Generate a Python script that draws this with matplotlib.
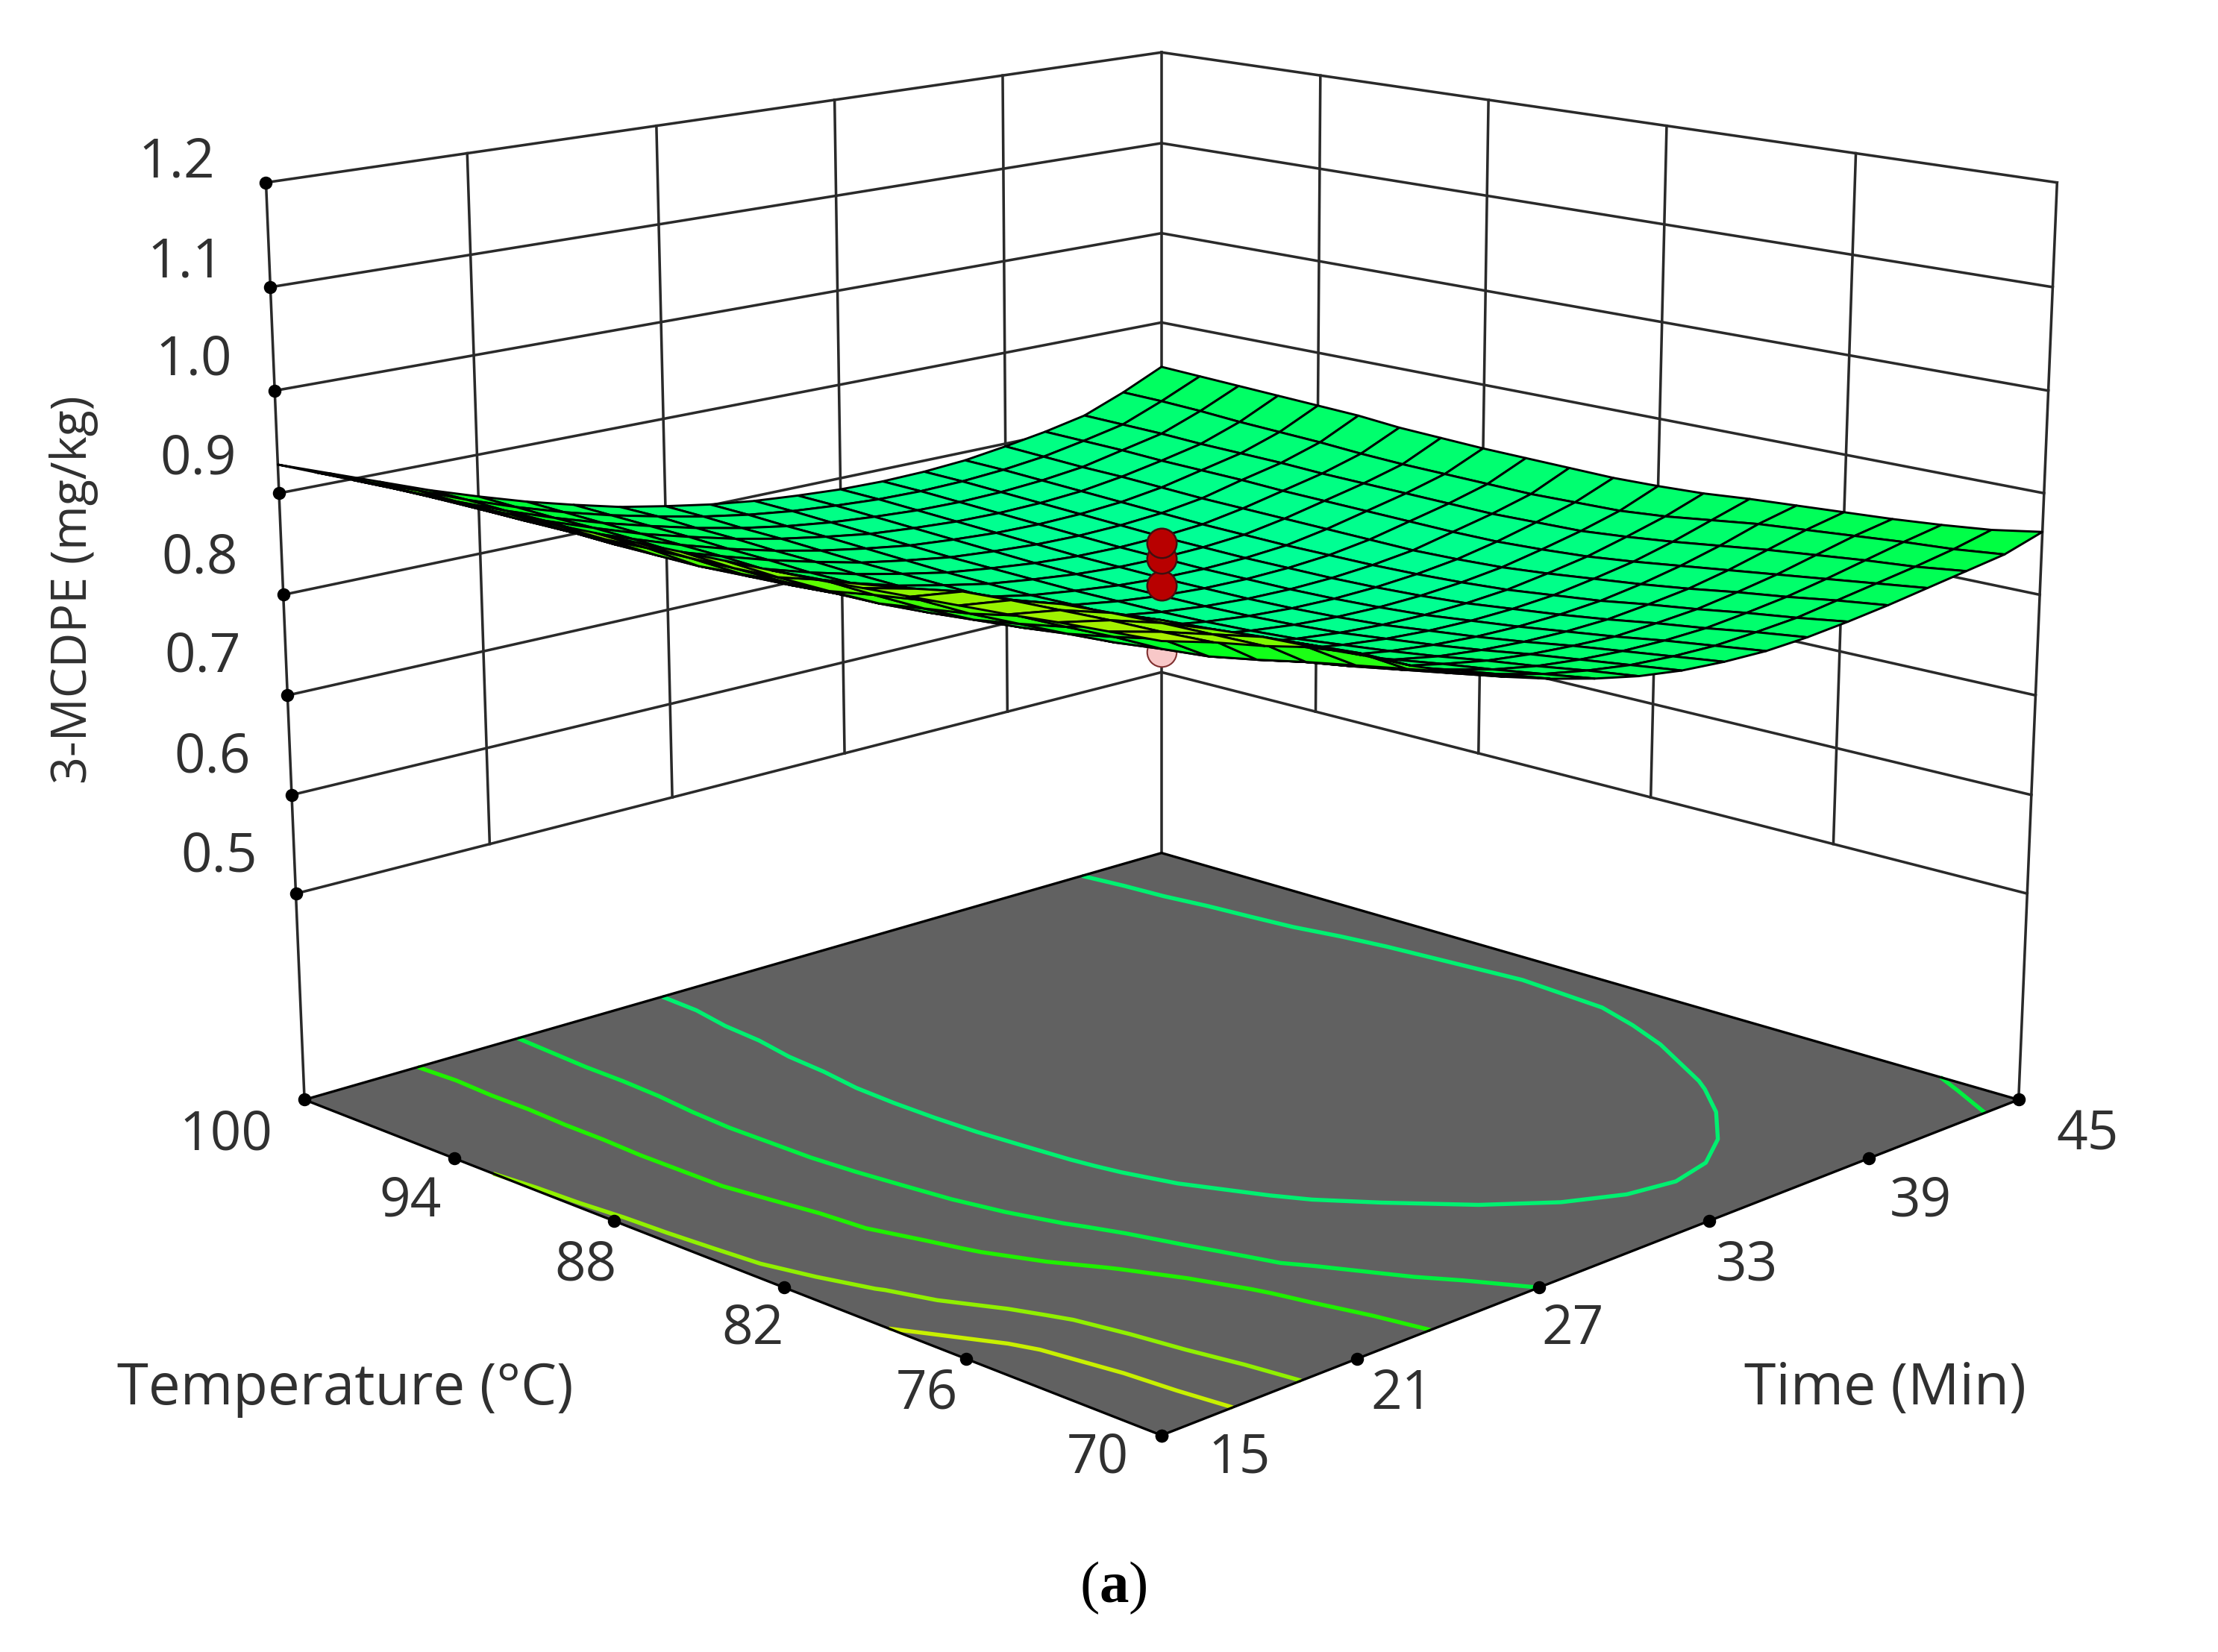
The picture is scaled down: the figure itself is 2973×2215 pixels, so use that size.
import matplotlib
matplotlib.use('Agg')
import numpy as np
import matplotlib.pyplot as plt
from matplotlib.colors import LinearSegmentedColormap, Normalize

# axis values
time_ticks = [15, 21, 27, 33, 39, 45]
temp_ticks = [70, 76, 82, 88, 94, 100]
z_ticks = [0.5, 0.6, 0.7, 0.8, 0.9, 1.0, 1.1, 1.2]
z_floor = 0.288

# mesh nodes
time_grid = [15, 16.5, 18, 19.5, 21, 22.5, 24, 25.5, 27, 28.5, 30, 31.5, 33, 34.5, 36, 37.5, 39, 40.5, 42, 43.5, 45]
temp_grid = [70, 71.5, 73, 74.5, 76, 77.5, 79, 80.5, 82, 83.5, 85, 86.5, 88, 89.5, 91, 92.5, 94, 95.5, 97, 98.5, 100]

# 3-MCDPE, one row per temperature
mcdpe = [
    [.972, .960, .946, .934, .916, .896, .879, .864, .851, .840, .831, .825, .822, .821, .823, .827, .832, .838, .844, .850, .862],
    [.969, .958, .945, .932, .914, .896, .871, .856, .844, .833, .825, .819, .816, .815, .817, .820, .826, .832, .838, .845, .854],
    [.966, .957, .944, .928, .910, .890, .863, .848, .837, .826, .818, .813, .810, .809, .810, .814, .819, .826, .834, .842, .849],
    [.962, .955, .942, .925, .905, .884, .855, .840, .829, .820, .812, .807, .804, .802, .804, .807, .813, .820, .829, .838, .845],
    [.959, .953, .939, .920, .898, .876, .846, .833, .822, .813, .805, .800, .797, .796, .797, .801, .806, .814, .824, .834, .842],
    [.956, .950, .932, .911, .888, .865, .838, .825, .815, .806, .799, .794, .791, .790, .791, .794, .800, .808, .818, .830, .839],
    [.953, .942, .920, .897, .876, .856, .834, .821, .810, .801, .794, .789, .786, .785, .786, .789, .795, .802, .812, .824, .836],
    [.950, .935, .911, .888, .868, .848, .829, .816, .805, .796, .789, .784, .781, .780, .781, .784, .790, .797, .807, .818, .832],
    [.948, .929, .905, .882, .861, .843, .827, .813, .802, .793, .786, .781, .778, .777, .778, .781, .786, .794, .803, .814, .830],
    [.946, .921, .898, .876, .857, .840, .825, .811, .800, .791, .784, .779, .776, .775, .776, .779, .784, .792, .802, .813, .829],
    [.944, .919, .896, .875, .855, .838, .823, .810, .799, .790, .783, .778, .775, .774, .775, .778, .783, .792, .801, .812, .830],
    [.942, .918, .893, .872, .853, .837, .822, .809, .799, .790, .783, .778, .775, .774, .775, .778, .784, .793, .802, .813, .831],
    [.941, .917, .890, .870, .852, .835, .821, .809, .798, .789, .783, .778, .775, .774, .775, .778, .785, .794, .803, .814, .832],
    [.939, .915, .890, .870, .852, .836, .822, .809, .799, .790, .784, .779, .776, .775, .776, .779, .786, .795, .804, .815, .834],
    [.938, .914, .890, .870, .852, .836, .822, .810, .800, .791, .785, .780, .777, .776, .777, .780, .787, .796, .805, .817, .836],
    [.936, .913, .891, .871, .853, .838, .824, .812, .801, .793, .786, .782, .779, .778, .779, .782, .788, .798, .807, .820, .840],
    [.935, .913, .891, .872, .855, .839, .825, .813, .803, .795, .788, .784, .781, .780, .781, .784, .790, .799, .808, .822, .842],
    [.934, .913, .892, .873, .856, .840, .827, .815, .805, .797, .790, .786, .783, .782, .783, .786, .792, .800, .809, .824, .844],
    [.932, .912, .892, .873, .856, .841, .828, .816, .806, .798, .792, .788, .785, .784, .785, .788, .793, .802, .811, .827, .846],
    [.930, .911, .893, .874, .857, .842, .829, .818, .808, .800, .794, .790, .787, .786, .787, .790, .795, .803, .812, .829, .848],
    [.928, .910, .892, .874, .858, .843, .830, .818, .809, .801, .795, .791, .788, .787, .788, .791, .797, .804, .813, .830, .850],
]
contour_levels = [.812, .851, .886, .936, .954]
contour_colors = ['#00f070', '#00f040', '#20f000', '#90f000', '#c8f000']

# design points
red_z = [0.851, 0.836, 0.809]
pink_z = [0.743]
center_time = 30
center_temp = 85

W, H = 2973, 2215
SW, SH = 1568, 1168

green_map = LinearSegmentedColormap.from_list('de', [
    (0.0, '#00ff96'), (0.22, '#00ff60'), (0.40, '#00ff20'),
    (0.60, '#50ff00'), (0.80, '#a8f000'), (1.0, '#e8f000')])
norm = Normalize(0.775, 1.02)

plt.rcParams['font.family'] = ['Open Sans', 'DejaVu Sans']

fig = plt.figure(figsize=(W / 300, H / 300), dpi=300)
ax = fig.add_axes([-0.0731, 0.005, 1.17, 1.17], projection='3d', computed_zorder=False)
ax.set_axis_off()
ax.set_xlim(15, 45)
ax.set_ylim(70, 100)
ax.set_zlim(z_floor, 1.2)
ax.set_box_aspect((1, 1, 0.765), zoom=1.0)
ax.set_proj_type('persp', focal_length=0.52)
ax.view_init(elev=14.6, azim=-135)

grid_c = '#2a2a2a'
grid_lw = 0.85
t0, t1 = time_ticks[0], time_ticks[-1]
p0, p1 = temp_ticks[0], temp_ticks[-1]

# walls
for z in z_ticks:
    ax.plot([t0, t1], [p1, p1], [z, z], color=grid_c, lw=grid_lw, zorder=1)
    ax.plot([t1, t1], [p0, p1], [z, z], color=grid_c, lw=grid_lw, zorder=1)
for t in time_ticks[1:-1]:
    ax.plot([t, t], [p1, p1], [z_ticks[0], z_ticks[-1]], color=grid_c, lw=grid_lw, zorder=1)
for p in temp_ticks[1:-1]:
    ax.plot([t1, t1], [p, p], [z_ticks[0], z_ticks[-1]], color=grid_c, lw=grid_lw, zorder=1)
ax.plot([t0, t0], [p1, p1], [z_floor, 1.2], color=grid_c, lw=grid_lw, zorder=1)
ax.plot([t1, t1], [p0, p0], [z_floor, 1.2], color=grid_c, lw=grid_lw, zorder=1)
ax.plot([t1, t1], [p1, p1], [z_floor, 1.2], color=grid_c, lw=grid_lw, zorder=1)

# floor
T, P = np.meshgrid(time_grid, temp_grid)
Z = np.array(mcdpe)
ax.plot_surface(np.array([[t0, t1], [t0, t1]]), np.array([[p0, p0], [p1, p1]]),
                np.full((2, 2), z_floor), color='#616161', shade=False, zorder=2)
ax.contour(T, P, Z, levels=contour_levels, zdir='z', offset=z_floor, colors=contour_colors,
           linewidths=1.3, zorder=3)
ax.plot([t0, t0, t1, t1, t0], [p1, p0, p0, p1, p1], [z_floor] * 5, color='black', lw=0.8, zorder=4)

# dots on the axes
ax.plot([t0] * len(temp_ticks), temp_ticks, [z_floor] * len(temp_ticks), 'o', color='black', ms=3.2, zorder=4)
ax.plot(time_ticks, [p0] * len(time_ticks), [z_floor] * len(time_ticks), 'o', color='black', ms=3.2, zorder=4)
ax.plot([t0] * len(z_ticks), [p1] * len(z_ticks), z_ticks, 'o', color='black', ms=3.2, zorder=4)

# pink point sits under the surface
ax.scatter([center_time] * len(pink_z), [center_temp] * len(pink_z), pink_z, s=90, color='#f8c8c8',
           edgecolor='#803030', linewidth=0.5, depthshade=False, zorder=5)

ax.plot_surface(T, P, Z, facecolors=green_map(norm(Z)), edgecolor='black', linewidth=0.7,
                rstride=1, cstride=1, shade=False, antialiased=True, zorder=6)

ax.scatter([center_time] * len(red_z), [center_temp] * len(red_z), red_z, s=90, color='#b80000',
           edgecolor='#401010', linewidth=0.6, depthshade=False, zorder=7)


def put(x, y, s, size=17.5, **kw):
    # position in the shrunk picture's pixels
    fig.text(x / SW, 1 - y / SH, s, fontsize=size, ha='center', va='center', color='#303030', **kw)


for s, x, y in zip(['1.2', '1.1', '1.0', '0.9', '0.8', '0.7', '0.6', '0.5'],
                   [125, 131, 137, 140, 141, 143, 150, 155],
                   [115, 186, 255, 325, 395, 465, 536, 606]):
    put(x, y, s)
for s, x, y in zip(temp_ticks, [776, 655, 532, 414, 290, 160], [1031, 986, 940, 895, 850, 803]):
    put(x, y, str(s))
for s, x, y in zip(time_ticks, [876, 991, 1112, 1235, 1358, 1476], [1031, 986, 940, 895, 850, 803]):
    put(x, y, str(s))
put(244, 982, 'Temperature (°C)', size=18.3)
put(1333, 982, 'Time (Min)', size=18.5)
put(52, 417, '3-MCDPE (mg/kg)', size=15.5, rotation=90)

plt.rcParams['mathtext.fontset'] = 'custom'
plt.rcParams['mathtext.rm'] = 'Liberation Serif'
plt.rcParams['mathtext.bf'] = 'Liberation Serif:bold'
fig.text(787 / SW, 1 - 1123 / SH, r'($\mathbf{a}$)', fontsize=19, ha='center', va='center',
         color='black', family='Liberation Serif')

fig.savefig('out.png', dpi=300)
